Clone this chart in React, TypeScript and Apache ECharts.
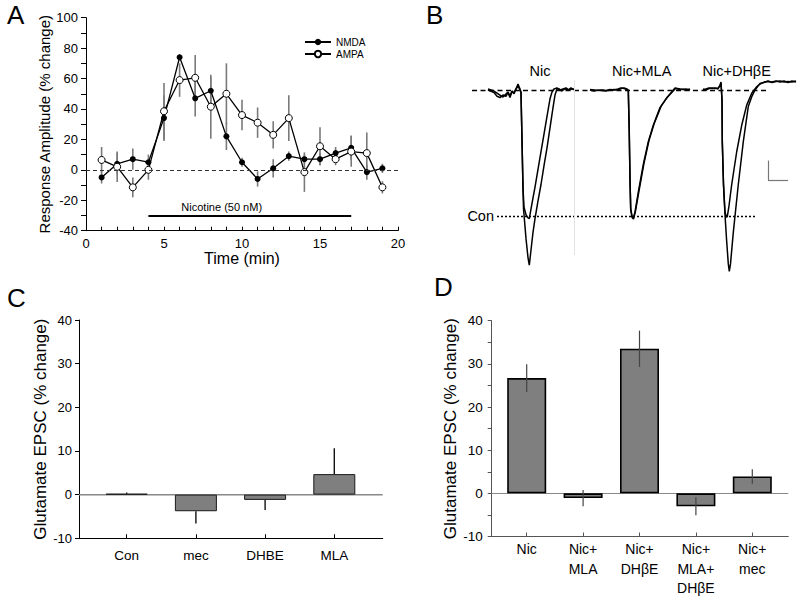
import React, { useEffect, useRef } from "react";
import * as echarts from "echarts";

const FONT = '"Liberation Sans", Arial, Helvetica, sans-serif';

// ---------- Panel A: time course ----------
const timeMin = [1, 2, 3, 4, 5, 6, 7, 8, 9, 10, 11, 12, 13, 14, 15, 16, 17, 18, 19];
const nmdaMean = [-5, 4, 7, 5, 34, 74, 47, 52, 22, 5, -6, 1, 9, 7, 7, 11, 14.5, -1.5, 1];
const nmdaSem = [4, 7, 7, 5, 15, 2, 12, 9, 9, 3, 5, 6, 3, 3, 4, 4, 8, 5, 3];
const ampaMean = [6.5, 2, -11.5, 0, 38.5, 59, 60.5, 41.5, 50, 36, 31, 23, 34, -1.5, 15.5, 7, 12, 11, -11.5];
const ampaSem = [8.5, 10, 6.5, 6.5, 18.5, 11, 15, 21, 20, 10, 10, 9, 15, 13, 12.5, 4, 10, 13.5, 4];
const nicotineWindow = [4, 17];
const nicotineLevel = -30;

// ---------- Panel B: traces [time (ms), current (% of control peak)] ----------
const nicCon = [[28,0.8],[31,0],[34,-0.8],[37,-2.4],[40,-4],[43,-5.6],[46,-3.2],[48,-1.6],[50,-4.8],[52,-0.8],[54,-2.4],[56,0.8],[58,4.8],[60,0.8],[61,-1.6],[62,-40],[63,-78],[64,-93],[66,-99],[68,-101.5],[69.3,-102],[72,-90],[75,-77],[78,-63],[81,-49],[84,-35],[87,-21],[90,-7],[92,-1.6],[94,0.8],[97,1.6],[100,0],[103,0.8],[106,1.6],[109,0],[112,0.8],[114,0.8]];
const nicNic = [[28,0],[31,-1],[34,-2],[37,-5],[40,-6],[43,-4],[46,-5],[48,-2],[50,-6],[52,-1],[54,-3],[56,1],[58,3],[60,0],[61,-2.4],[62,-40],[63,-78],[63.5,-94],[66,-118],[68,-133],[69.3,-139],[71,-127],[73,-113],[75,-102],[78,-88],[81,-75],[84,-60],[87,-46],[90,-30],[93,-14],[95,-4],[97,0.8],[99,0.8],[102,-0.8],[105,1],[108,0],[111,1.6],[114,0]];
const mlaCon = [[130,0],[134,-0.8],[138,0],[142,-0.4],[146,-0.8],[150,0],[154,0.4],[158,0],[161,1.2],[164,1.6],[167,0.8],[168.3,0],[169.2,-30],[170,-70],[170.7,-94],[172,-100],[173.3,-101.7],[175,-97],[178.3,-81],[183.3,-59],[188.3,-41],[193.3,-28],[200,-14],[206.7,-6.3],[215,1.6],[220,0.8],[226,0],[230,0.8]];
const mlaNic = [[130,0.5],[134,0],[138,-0.5],[142,0],[146,-0.4],[150,0.4],[154,0],[158,0.8],[161,1.6],[164,1.2],[167,0.4],[168.3,-0.5],[169.2,-32],[170,-72],[170.7,-95],[172,-101],[173.5,-102.5],[175.5,-96],[179,-80],[184,-58],[189,-40],[194,-27],[201,-13],[207.5,-5.5],[215.5,1.2],[220,0.4],[226,0.8],[230,0]];
const dhbeCon = [[243,0],[246,0.8],[249,1.6],[252,1.2],[255,1.6],[258,0.8],[260,4],[261,6.3],[262,-8],[262.3,-41],[263.5,-75],[265,-97],[266.5,-101],[267.3,-100.5],[269,-92],[271.7,-75],[276.7,-49],[281.7,-28],[286.7,-12],[291.7,-2.6],[296.7,2.6],[300,4.8],[304,6.3],[308,6.7],[312,6.3],[316,7.1],[320,6.3],[324,7.1],[328,5.9],[332,7.1],[336,6.3]];
const dhbeNic = [[243,0.8],[246,0],[249,1.2],[252,1.6],[255,1.2],[258,1.6],[260,3.2],[261,5.6],[262,-8],[262.3,-41],[263.5,-75],[265,-99],[266.5,-118],[268.3,-138],[269.3,-144],[270.5,-138],[273.3,-113],[278.3,-75],[283.3,-41],[288.3,-13],[292,-4.8],[295,0],[298,3.2],[300,5.2],[304,6],[308,7.1],[312,6],[316,6.7],[320,7.1],[324,6.3],[328,6.7],[332,6.3],[336,7.1]];
const traceLabels = ["Nic", "Nic+MLA", "Nic+DH\u03B2E"];
const baselineSpan = [12, 307];
const controlPeak = -100;
const controlSpan = [37, 295];
const scaleBar = { x: [308, 328], y: [-56, -71.4] };
const divider = { x: 114, y: [8, -131] };

// ---------- Panel C ----------
const cCats = ["Con", "mec", "DHBE", "MLA"];
const cMean = [0.2, -3.8, -1.2, 4.7];
const cSem = [0.3, 2.8, 2.3, 5.9];

// ---------- Panel D ----------
const dCats = ["Nic", "Nic+\nMLA", "Nic+\nDH\u03B2E", "Nic+\nMLA+\nDH\u03B2E", "Nic+\nmec"];
const dMean = [26.7, -1.1, 33.5, -3.0, 3.9];
const dSem = [3.2, 1.9, 4.2, 2.1, 1.7];

const errRender = (color: string, width: number) => (params: any, api: any) => {
  const a = api.coord([api.value(0), api.value(1)]);
  const b = api.coord([api.value(0), api.value(2)]);
  return {
    type: "line",
    shape: { x1: a[0], y1: a[1], x2: b[0], y2: b[1] },
    style: { stroke: color, lineWidth: width },
  };
};

const txt = (x: number, y: number, text: string, size: number, align = "left") => ({
  type: "text",
  x,
  y,
  silent: true,
  style: { text, fontSize: size, fontFamily: FONT, fill: "#000", align, verticalAlign: "middle" },
});

export default function App() {
  const ref = useRef<HTMLDivElement>(null);
  useEffect(() => {
    if (!ref.current) return;
    const chart = echarts.init(ref.current, undefined, { renderer: "svg" });
    const black = { color: "#000", width: 1 };
    const option: any = {
      animation: false,
      backgroundColor: "#fff",
      textStyle: { fontFamily: FONT, color: "#000" },
      grid: [
        { left: 86, top: 17.7, width: 312, height: 213 },
        { left: 460, top: 58.5, width: 340, height: 226.8 },
        { left: 79, top: 320, width: 303.7, height: 218.3 },
        { left: 92.1, top: 320, width: 276.8, height: 218.3 },
        { left: 491.7, top: 320.7, width: 296.6, height: 216 },
        { left: 498.5, top: 320.7, width: 282, height: 216 },
      ],
      legend: {
        data: ["NMDA", "AMPA"],
        orient: "vertical",
        left: 302,
        top: 35,
        itemWidth: 26,
        itemHeight: 8,
        itemGap: 2,
        padding: 2,
        selectedMode: false,
        textStyle: { fontSize: 10, color: "#000", fontFamily: FONT },
      },
      xAxis: [
        {
          type: "value", gridIndex: 0, min: 0, max: 20, interval: 1,
          axisLine: { show: true, onZero: false, lineStyle: black },
          axisTick: { show: true, inside: true, length: 4, lineStyle: black },
          axisLabel: { formatter: (v: number) => (v % 5 === 0 ? String(v) : ""), fontSize: 13, color: "#000", margin: 6 },
          splitLine: { show: false },
          name: "Time (min)", nameLocation: "middle", nameGap: 18,
          nameTextStyle: { fontSize: 16, color: "#000", fontFamily: FONT },
        },
        { type: "value", gridIndex: 1, min: 0, max: 340, show: false },
        {
          type: "value", gridIndex: 2, min: 0, max: 1,
          axisLine: { show: true, onZero: false, lineStyle: black },
          axisTick: { show: false }, axisLabel: { show: false }, splitLine: { show: false },
        },
        {
          type: "category", gridIndex: 3, data: cCats,
          axisLine: { show: false, onZero: false },
          axisTick: { show: true, inside: true, alignWithLabel: true, length: 4, lineStyle: black },
          axisLabel: { fontSize: 13.5, color: "#000", margin: 10 },
        },
        {
          type: "value", gridIndex: 4, min: 0, max: 1,
          axisLine: { show: true, onZero: false, lineStyle: { color: "#555", width: 1 } },
          axisTick: { show: false }, axisLabel: { show: false }, splitLine: { show: false },
        },
        {
          type: "category", gridIndex: 5, data: dCats,
          axisLine: { show: false, onZero: false },
          axisTick: { show: true, inside: true, alignWithLabel: true, length: 4, lineStyle: { color: "#555" } },
          axisLabel: { fontSize: 14, color: "#000", margin: 3, lineHeight: 19.5 },
        },
      ],
      yAxis: [
        {
          type: "value", gridIndex: 0, min: -40, max: 100, interval: 10,
          axisLine: { show: true, onZero: false, lineStyle: black },
          axisTick: { show: true, length: 5, lineStyle: black },
          axisLabel: { formatter: (v: number) => (v % 20 === 0 ? String(v) : ""), fontSize: 13, color: "#000", margin: 8 },
          splitLine: { show: false },
          name: "Response Amplitude (% change)", nameLocation: "middle", nameGap: 33,
          nameTextStyle: { fontSize: 15, color: "#000", fontFamily: FONT },
        },
        { type: "value", gridIndex: 1, min: -155, max: 25, show: false },
        {
          type: "value", gridIndex: 2, min: -10, max: 40, interval: 10,
          axisLine: { show: true, onZero: false, lineStyle: black },
          axisTick: { show: true, length: 4, lineStyle: black },
          axisLabel: { fontSize: 13, color: "#000", margin: 7 },
          splitLine: { show: false },
          name: "Glutamate EPSC (% change)", nameLocation: "middle", nameGap: 28,
          nameTextStyle: { fontSize: 17, color: "#000", fontFamily: FONT },
        },
        { type: "value", gridIndex: 3, min: -10, max: 40, show: false },
        {
          type: "value", gridIndex: 4, min: -10, max: 40, interval: 5,
          axisLine: { show: true, onZero: false, lineStyle: { color: "#555", width: 1 } },
          axisTick: { show: true, length: 4, lineStyle: { color: "#555" } },
          axisLabel: { formatter: (v: number) => (v % 10 === 0 ? String(v) : ""), fontSize: 13.5, color: "#000", margin: 9 },
          splitLine: { show: false },
          name: "Glutamate EPSC (% change)", nameLocation: "middle", nameGap: 30,
          nameTextStyle: { fontSize: 17, color: "#000", fontFamily: FONT },
        },
        { type: "value", gridIndex: 5, min: -10, max: 40, show: false },
      ],
      series: [
        // ----- A -----
        {
          type: "custom", name: "nmdaErr", xAxisIndex: 0, yAxisIndex: 0, z: 1,
          renderItem: errRender("#7a7a7a", 1.6),
          encode: { x: 0, y: [1, 2] },
          data: timeMin.map((t, i) => [t, nmdaMean[i] - nmdaSem[i], nmdaMean[i] + nmdaSem[i]]),
        },
        {
          type: "custom", name: "ampaErr", xAxisIndex: 0, yAxisIndex: 0, z: 1,
          renderItem: errRender("#7a7a7a", 1.6),
          encode: { x: 0, y: [1, 2] },
          data: timeMin.map((t, i) => [t, ampaMean[i] - ampaSem[i], ampaMean[i] + ampaSem[i]]),
        },
        {
          type: "line", name: "NMDA", xAxisIndex: 0, yAxisIndex: 0, z: 3,
          data: timeMin.map((t, i) => [t, nmdaMean[i]]),
          symbol: "circle", symbolSize: 6,
          itemStyle: { color: "#000" },
          lineStyle: { color: "#000", width: 1.3 },
          markLine: {
            silent: true, symbol: "none", label: { show: false },
            data: [
              { yAxis: 0, lineStyle: { type: [4, 3], color: "#333", width: 1 } },
              [
                { coord: [nicotineWindow[0], nicotineLevel], lineStyle: { type: "solid", color: "#000", width: 2 } },
                { coord: [nicotineWindow[1], nicotineLevel] },
              ],
            ],
          },
        },
        {
          type: "line", name: "AMPA", xAxisIndex: 0, yAxisIndex: 0, z: 4,
          data: timeMin.map((t, i) => [t, ampaMean[i]]),
          symbol: "circle", symbolSize: 7,
          itemStyle: { color: "#fff", borderColor: "#000", borderWidth: 1 },
          lineStyle: { color: "#000", width: 1.3 },
        },
        // ----- B -----
        ...[nicCon, nicNic, mlaCon, mlaNic, dhbeCon, dhbeNic].map((d, k) => ({
          type: "line", name: "trace" + k, xAxisIndex: 1, yAxisIndex: 1, z: 3,
          data: d, symbol: "none", silent: true,
          lineStyle: { color: "#000", width: 1.5 },
          markLine: k === 0 ? {
            silent: true, symbol: "none", label: { show: false },
            data: [
              [{ coord: [baselineSpan[0], 0], lineStyle: { type: [5, 3.5], color: "#000", width: 1.3 } }, { coord: [baselineSpan[1], 0] }],
              [{ coord: [controlSpan[0], controlPeak], lineStyle: { type: [2, 2], color: "#000", width: 1.3 } }, { coord: [controlSpan[1], controlPeak] }],
              [{ coord: [scaleBar.x[0], scaleBar.y[0]], lineStyle: { type: "solid", color: "#777", width: 1.2 } }, { coord: [scaleBar.x[0], scaleBar.y[1]] }],
              [{ coord: [scaleBar.x[0], scaleBar.y[1]], lineStyle: { type: "solid", color: "#777", width: 1.2 } }, { coord: [scaleBar.x[1], scaleBar.y[1]] }],
              [{ coord: [divider.x, divider.y[0]], lineStyle: { type: "solid", color: "#e2e2e2", width: 1 } }, { coord: [divider.x, divider.y[1]] }],
            ],
          } : undefined,
        })),
        // ----- C -----
        {
          type: "line", name: "cZero", xAxisIndex: 2, yAxisIndex: 2, z: 1, silent: true,
          data: [[0, 0], [1, 0]], symbol: "none",
          lineStyle: { color: "#888", width: 1.5 },
        },
        {
          type: "bar", name: "cBars", xAxisIndex: 3, yAxisIndex: 3, z: 2,
          data: cMean, barWidth: 42,
          itemStyle: { color: "#7f7f7f", borderColor: "#1a1a1a", borderWidth: 1 },
        },
        {
          type: "custom", name: "cErr", xAxisIndex: 3, yAxisIndex: 3, z: 3,
          renderItem: errRender("#111", 1.4),
          encode: { x: 0, y: [1, 2] },
          data: cMean.map((v, i) => [i, v, v + (v >= 0 ? cSem[i] : -cSem[i])]),
        },
        // ----- D -----
        {
          type: "line", name: "dZero", xAxisIndex: 4, yAxisIndex: 4, z: 1, silent: true,
          data: [[0, 0], [1, 0]], symbol: "none",
          lineStyle: { color: "#888", width: 1.2 },
        },
        {
          type: "bar", name: "dBars", xAxisIndex: 5, yAxisIndex: 5, z: 2,
          data: dMean, barWidth: 39,
          itemStyle: { color: "#7f7f7f", borderColor: "#000", borderWidth: 1.6 },
        },
        {
          type: "custom", name: "dErr", xAxisIndex: 5, yAxisIndex: 5, z: 3,
          renderItem: errRender("#444", 1.2),
          encode: { x: 0, y: [1, 2] },
          data: dMean.map((v, i) => [i, v - dSem[i], v + dSem[i]]),
        },
      ],
      graphic: [
        txt(7, 14.5, "A", 26),
        txt(426, 14.5, "B", 26),
        txt(7, 298.3, "C", 26),
        txt(434, 287, "D", 26),
        txt(221.7, 207, "Nicotine (50 nM)", 11, "center"),
        txt(540, 70.7, traceLabels[0], 14.5, "center"),
        txt(641.7, 70.7, traceLabels[1], 14.5, "center"),
        txt(736.7, 70.7, traceLabels[2], 14.5, "center"),
        txt(494, 216, "Con", 14.5, "right"),
      ],
    };
    chart.setOption(option);
    return () => chart.dispose();
  }, []);
  return (
    <div
      ref={ref}
      style={{ position: "fixed", left: 0, top: 0, width: 800, height: 598, background: "#fff" }}
    />
  );
}
